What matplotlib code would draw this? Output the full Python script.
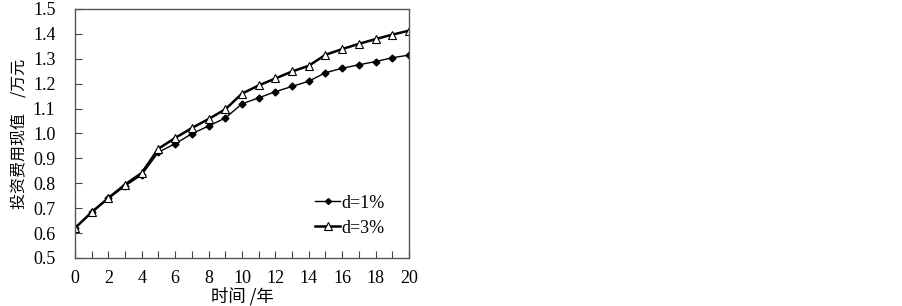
import numpy as np
import matplotlib.pyplot as plt

plt.rcParams['font.family'] = ['Liberation Serif', 'Noto Sans CJK SC']

# 数据: 年份与两种折现率下的投资费用现值 (万元)
years = np.arange(0, 21)
d1 = [0.620, 0.683, 0.739, 0.789, 0.834, 0.925, 0.959, 0.999, 1.030, 1.062,
      1.119, 1.143, 1.168, 1.189, 1.210, 1.244, 1.262, 1.276, 1.289, 1.304, 1.315]
d3 = [0.620, 0.684, 0.741, 0.795, 0.842, 0.939, 0.982, 1.022, 1.058, 1.097,
      1.160, 1.193, 1.221, 1.249, 1.272, 1.316, 1.339, 1.360, 1.379, 1.397, 1.413]
labels = ['d=1%', 'd=3%']

fig = plt.figure(figsize=(9.02, 3.06), dpi=100)
ax = fig.add_axes([0.0831, 0.1569, 0.3703, 0.8137])

ax.plot(years, d1, color='black', lw=1.0, marker='D', ms=3.5,
        mfc='black', mec='black', label=labels[0])
ax.plot(years, d3, color='black', lw=1.8, marker='^', ms=6,
        mfc='white', mec='black', mew=0.8, label=labels[1])

ax.set_xlim(0, 20)
ax.set_ylim(0.5, 1.5)
ax.set_xticks(np.arange(0, 21, 2))
ax.set_xticks(np.arange(0, 21, 1), minor=True)
ax.set_yticks(np.arange(0.5, 1.51, 0.1))
ax.set_yticklabels([f'{v:.1f}' for v in np.arange(0.5, 1.51, 0.1)])
ax.tick_params(which='both', direction='in', length=5, width=0.8,
               color='#444444')
ax.tick_params(axis='y', labelsize=13, pad=14)
ax.tick_params(axis='x', labelsize=13, pad=9)

for s in ax.spines.values():
    s.set_color('#555555')
    s.set_linewidth(1.0)

ax.set_xlabel('时间 /年', fontsize=12.5, family=['Noto Sans CJK SC'], labelpad=0)
ax.set_ylabel('投资费用现值\u3000/万元', fontsize=11.5, family=['Noto Sans CJK SC'], labelpad=4)

leg = ax.legend(loc='lower right', bbox_to_anchor=(0.975, 0.02), frameon=False,
                fontsize=13, handlelength=1.4, handletextpad=0.05, labelspacing=0.45,
                markerscale=0.85)

fig.savefig('out.png', dpi=100)
